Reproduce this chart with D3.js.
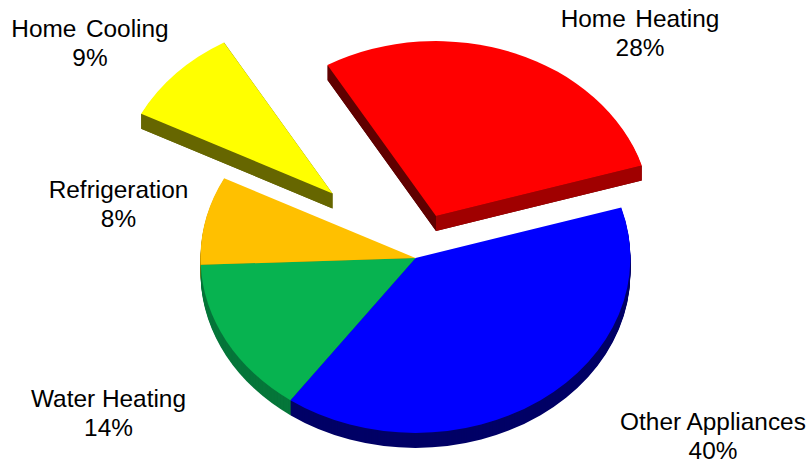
<!DOCTYPE html>
<html><head><meta charset="utf-8">
<script src="https://cdnjs.cloudflare.com/ajax/libs/d3/7.8.5/d3.min.js"></script>
<style>html,body{margin:0;padding:0;background:#fff}svg{display:block}text{font-family:"Liberation Sans",Arial,sans-serif;white-space:pre;fill:#000}</style>
</head><body><script>
const categories = ["Other Appliances","Water Heating","Refrigeration","Home  Cooling","Home  Heating"];
const percentLabels = ["40%","14%","8%","9%","28%"];
const sliceSizes = [39.55,14.5,8.15,9.05,28.75];
const topColors = ["#0000ff","#07b350","#ffc000","#ffff00","#ff0000"];
const wallColors = ["#000066","#06763a","#a67c00","#666600","#600000"];
const startEdgeColors = ["#000066","#06763a","#a67c00","#666600","#600000"];
const endEdgeColors = ["#000066","#06763a","#a67c00","#666600","#a00000"];
const offsetX = [0,0,0,-83,20.5];
const offsetY = [0,0,0,-64.5,-42];
const labelX = [713,108.5,118.5,90,640];
const labelY = [430,407,198,37,27];

const W=811,H=463,cx=415.5,cy=258,rx=215,ry=175,depth=15,lineGap=28.5;
const svg=d3.select("body").append("svg").attr("width",W).attr("height",H);
const x=d3.scaleLinear().domain([-1,1]).range([cx-rx,cx+rx]);
const y=d3.scaleLinear().domain([-1,1]).range([cy-ry,cy+ry]);
const start=73.2*Math.PI/180;
const pie=d3.pie().sort(null).startAngle(start).endAngle(start+2*Math.PI);
const arcs=pie(sliceSizes).map((a,i)=>({...a,i}));
const unitArc=d3.arc().innerRadius(0).outerRadius(1);
const poly=d3.line();
const pt=(ang,i,dy=0)=>[x(Math.sin(ang))+offsetX[i],y(-Math.cos(ang))+offsetY[i]+dy];
const apex=(i,dy=0)=>[x(0)+offsetX[i],y(0)+offsetY[i]+dy];
const place=(i,dy)=>`translate(${x(0)+offsetX[i]},${y(0)+offsetY[i]+dy}) scale(${rx},${ry})`;

const walls=svg.append("g");
arcs.slice().reverse().forEach(a=>{
  const g=walls.append("g");
  g.selectAll("path.wall").data(d3.range(depth,0,-1)).join("path").attr("class","wall")
    .attr("d",unitArc(a)).attr("fill",wallColors[a.i]).attr("transform",dy=>place(a.i,dy));
  if(offsetX[a.i]!==0){
    g.append("path").attr("fill",startEdgeColors[a.i])
      .attr("d",poly([apex(a.i),pt(a.startAngle,a.i),pt(a.startAngle,a.i,depth),apex(a.i,depth)])+"Z");
    g.append("path").attr("fill",endEdgeColors[a.i])
      .attr("d",poly([apex(a.i),pt(a.endAngle,a.i),pt(a.endAngle,a.i,depth),apex(a.i,depth)])+"Z");
  }
});
svg.append("g").selectAll("path").data(arcs).join("path")
  .attr("d",d=>unitArc(d)).attr("fill",d=>topColors[d.i]).attr("transform",d=>place(d.i,0));

const labels=svg.append("g").attr("font-size",24.4).attr("text-anchor","middle");
categories.forEach((c,i)=>{
  labels.append("text").attr("x",labelX[i]).attr("y",labelY[i]).attr("word-spacing",c.includes("  ")?-2:0).text(c);
  labels.append("text").attr("x",labelX[i]).attr("y",labelY[i]+lineGap).text(percentLabels[i]);
});
</script></body></html>
